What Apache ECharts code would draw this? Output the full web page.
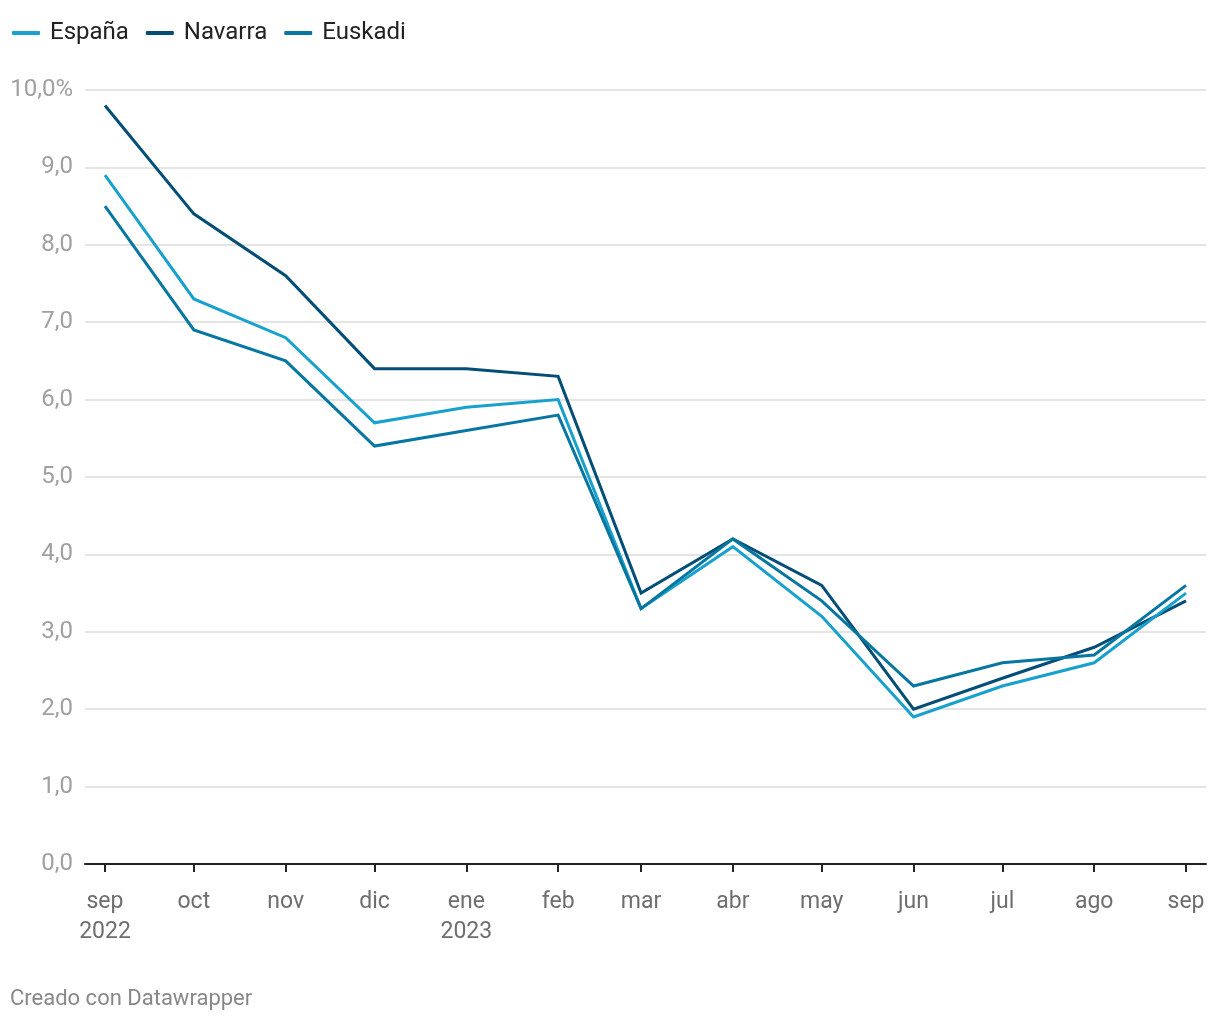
<!DOCTYPE html>
<html>
<head>
<meta charset="utf-8">
<style>
html,body{margin:0;padding:0;background:#fff;}
#chart{width:1220px;height:1020px;}
</style>
<script src="https://cdn.jsdelivr.net/npm/echarts@6/dist/echarts.min.js"></script>
</head>
<body>
<div id="chart"></div>
<script>
// Month starts (year, monthIndex) — Sep 2022 to Sep 2023
var months = [[2022,8],[2022,9],[2022,10],[2022,11],[2023,0],[2023,1],[2023,2],[2023,3],[2023,4],[2023,5],[2023,6],[2023,7],[2023,8]];
var monthLabels = ['sep\n2022','oct','nov','dic','ene\n2023','feb','mar','abr','may','jun','jul','ago','sep'];
var espana  = [8.9, 7.3, 6.8, 5.7, 5.9, 6.0, 3.3, 4.1, 3.2, 1.9, 2.3, 2.6, 3.5];
var navarra = [9.8, 8.4, 7.6, 6.4, 6.4, 6.3, 3.5, 4.2, 3.6, 2.0, 2.4, 2.8, 3.4];
var euskadi = [8.5, 6.9, 6.5, 5.4, 5.6, 5.8, 3.3, 4.2, 3.4, 2.3, 2.6, 2.7, 3.6];
var yTicks = [0,1,2,3,4,5,6,7,8,9,10];

var DAY = 86400000;
var t0 = Date.UTC(months[0][0], months[0][1], 1);
// day offsets from the first month
var days = months.map(function(m){ return Math.round((Date.UTC(m[0], m[1], 1) - t0) / DAY); });
function pair(arr){ return arr.map(function(v,i){ return [days[i], v]; }); }
var pad = 6.75;

var chart = echarts.init(document.getElementById('chart'));
var font = 'Roboto, "Noto Sans", sans-serif';
chart.setOption({
  backgroundColor: '#fff',
  animation: false,
  textStyle: { fontFamily: font },
  legend: {
    left: 7, top: 16,
    itemWidth: 28, itemHeight: 4, itemGap: 17,
    icon: 'roundRect',
    textStyle: { fontSize: 24, color: '#222', fontFamily: font, padding: [0,0,0,5] },
    data: ['España','Navarra','Euskadi']
  },
  graphic: [{
    type: 'text', left: 10, top: 988,
    style: { text: 'Creado con Datawrapper', fontSize: 22, fill: '#888', fontFamily: font }
  }],
  grid: { left: 85, right: 14, top: 90, bottom: 156, containLabel: false },
  xAxis: {
    type: 'value',
    min: days[0] - pad,
    max: days[days.length-1] + pad,
    axisLine: { show: true, onZero: false, lineStyle: { color: '#222', width: 2 } },
    axisTick: { show: true, length: 8, lineStyle: { color: '#222', width: 2 }, customValues: days },
    splitLine: { show: false },
    axisLabel: {
      customValues: days,
      fontSize: 23, color: '#6e6e6e', fontFamily: font, lineHeight: 30, margin: 23,
      formatter: function(v){
        var i = days.indexOf(v);
        return i >= 0 ? monthLabels[i] : '';
      }
    }
  },
  yAxis: {
    type: 'value', min: 0, max: 10, interval: 1,
    axisLine: { show: false }, axisTick: { show: false },
    splitLine: { lineStyle: { color: '#e4e4e4', width: 2 } },
    axisLabel: {
      fontSize: 24, color: '#a0a0a0', fontFamily: font, margin: 12, padding: [3,0,0,0],
      formatter: function(v){
        var s = v.toFixed(1).replace('.', ',');
        return v === yTicks[yTicks.length-1] ? s + '%' : s;
      }
    }
  },
  series: [
    { name: 'España', type: 'line', data: pair(espana), symbol: 'none', color: '#18a1cd',
      lineStyle: { width: 3, color: '#18a1cd', join: 'miter' }, z: 3 },
    { name: 'Navarra', type: 'line', data: pair(navarra), symbol: 'none', color: '#034e76',
      lineStyle: { width: 3, color: '#034e76', join: 'miter' }, z: 2 },
    { name: 'Euskadi', type: 'line', data: pair(euskadi), symbol: 'none', color: '#0777a1',
      lineStyle: { width: 3, color: '#0777a1', join: 'miter' }, z: 4 }
  ]
});
</script>
</body>
</html>
